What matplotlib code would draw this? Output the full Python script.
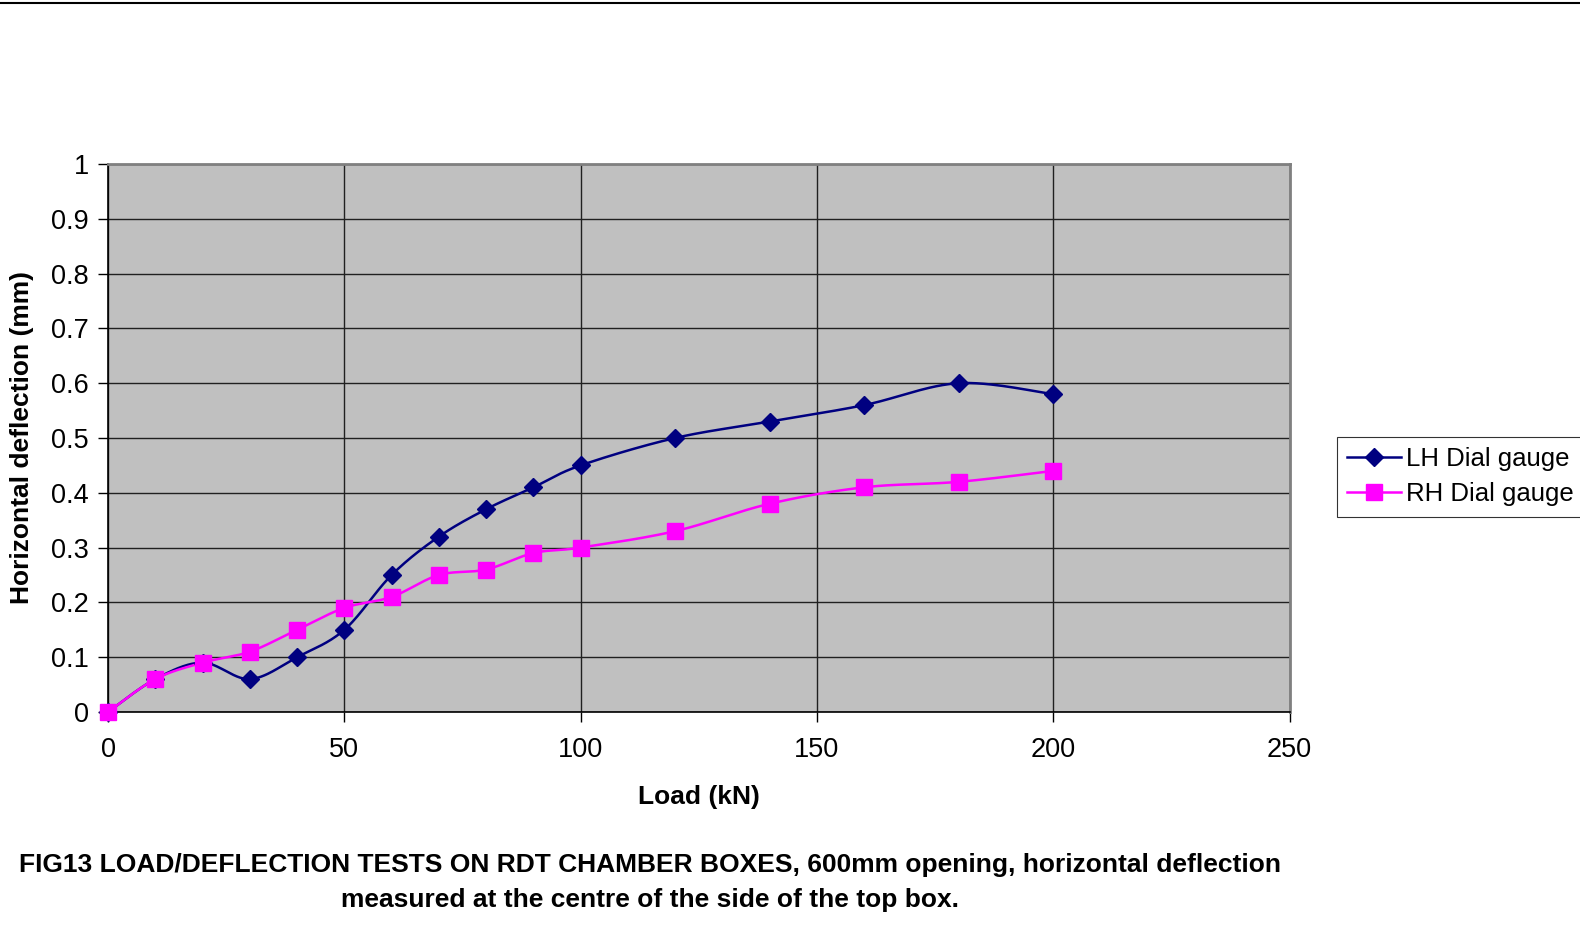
import numpy as np
import matplotlib
matplotlib.use("Agg")
from matplotlib import pyplot as plt
from matplotlib.lines import Line2D

# ------------------------------------------------------------------
# Data
# ------------------------------------------------------------------
load_kn = [0, 10, 20, 30, 40, 50, 60, 70, 80, 90, 100, 120, 140, 160, 180, 200]
lh_defl = [0, 0.06, 0.09, 0.06, 0.10, 0.15, 0.25, 0.32, 0.37, 0.41, 0.45,
           0.50, 0.53, 0.56, 0.60, 0.58]
rh_defl = [0, 0.06, 0.09, 0.11, 0.15, 0.19, 0.21, 0.25, 0.26, 0.29, 0.30,
           0.33, 0.38, 0.41, 0.42, 0.44]
x_ticks = [0, 50, 100, 150, 200, 250]
y_ticks = [0, 0.1, 0.2, 0.3, 0.4, 0.5, 0.6, 0.7, 0.8, 0.9, 1]
y_tick_labels = ["0", "0.1", "0.2", "0.3", "0.4", "0.5", "0.6", "0.7", "0.8", "0.9", "1"]
series_names = ["LH Dial gauge", "RH Dial gauge"]
caption = ("FIG13 LOAD/DEFLECTION TESTS ON RDT CHAMBER BOXES, 600mm opening, horizontal deflection\n"
           "measured at the centre of the side of the top box.")


def smooth_curve(a_x, a_y, a_steps=30):
    # Excel style smoothing: cubic Bezier with Catmull-Rom control points
    pts = np.column_stack([a_x, a_y]).astype(float)
    padded = np.vstack([pts[0], pts, pts[-1]])
    t = np.linspace(0, 1, a_steps)[:, None]
    out = []
    for i in range(len(pts) - 1):
        p0, p1, p2, p3 = padded[i], padded[i + 1], padded[i + 2], padded[i + 3]
        c1 = p1 + (p2 - p0) / 6.0
        c2 = p2 - (p3 - p1) / 6.0
        seg = ((1 - t) ** 3) * p1 + 3 * ((1 - t) ** 2) * t * c1 + 3 * (1 - t) * t ** 2 * c2 + t ** 3 * p2
        out.append(seg if i == 0 else seg[1:])
    out = np.vstack(out)
    return out[:, 0], out[:, 1]


plt.rcParams["font.family"] = ["Liberation Sans", "DejaVu Sans"]

fig = plt.figure(figsize=(15.8, 9.25), dpi=100)
ax = fig.add_axes([0.0684, 0.2303, 0.7478, 0.5924])
ax.set_facecolor("#c0c0c0")

# Series
colors = ["#000080", "#ff00ff"]
markers = ["D", "s"]
sizes = [9, 11]
for yvals, col, mk, ms in zip([lh_defl, rh_defl], colors, markers, sizes):
    sx, sy = smooth_curve(load_kn, yvals)
    ax.plot(sx, sy, color=col, linewidth=1.8, zorder=3, clip_on=False)
    ax.plot(load_kn, yvals, linestyle="none", marker=mk, markersize=ms,
            color=col, zorder=4, clip_on=False)

ax.set_xlim(0, 250)
ax.set_ylim(0, 1)
ax.set_xticks(x_ticks)
ax.set_yticks(y_ticks)
ax.set_yticklabels(y_tick_labels)
ax.grid(True, color="#202020", linewidth=1.0)
ax.set_axisbelow(True)
ax.tick_params(axis="both", direction="out", length=7, width=1.0,
               labelsize=19.5, pad=7)
ax.tick_params(axis="x", pad=11)
for side in ["left", "bottom"]:
    ax.spines[side].set_color("black")
    ax.spines[side].set_linewidth(1.2)
for side in ["top", "right"]:
    ax.spines[side].set_color("#808080")
    ax.spines[side].set_linewidth(2.0)

ax.set_xlabel("Load (kN)", fontsize=19, fontweight="bold", labelpad=16)
ax.set_ylabel("Horizontal deflection (mm)", fontsize=19, fontweight="bold", labelpad=12)

# Legend (partly cut by the right edge, like the reference)
handles = [Line2D([0], [0], color=c, marker=m, markersize=s, linewidth=1.8)
           for c, m, s in zip(colors, markers, sizes)]
leg = fig.legend(handles, series_names, loc="upper left",
                 bbox_to_anchor=(0.8462, 0.528), fontsize=18.5,
                 frameon=True, fancybox=False, borderpad=0.4,
                 handlelength=2.1, handletextpad=0.2, labelspacing=0.45,
                 borderaxespad=0)
leg.get_frame().set_edgecolor("black")
leg.get_frame().set_linewidth(0.8)

# Caption
fig.text(0.4115, 0.0775, caption, ha="center", va="top", fontsize=19,
         fontweight="bold", linespacing=1.55)

# Rule across the top
fig.add_artist(Line2D([0, 1], [0.9965, 0.9965], transform=fig.transFigure,
                      color="black", linewidth=1.5))

fig.savefig("out.png", dpi=100)
